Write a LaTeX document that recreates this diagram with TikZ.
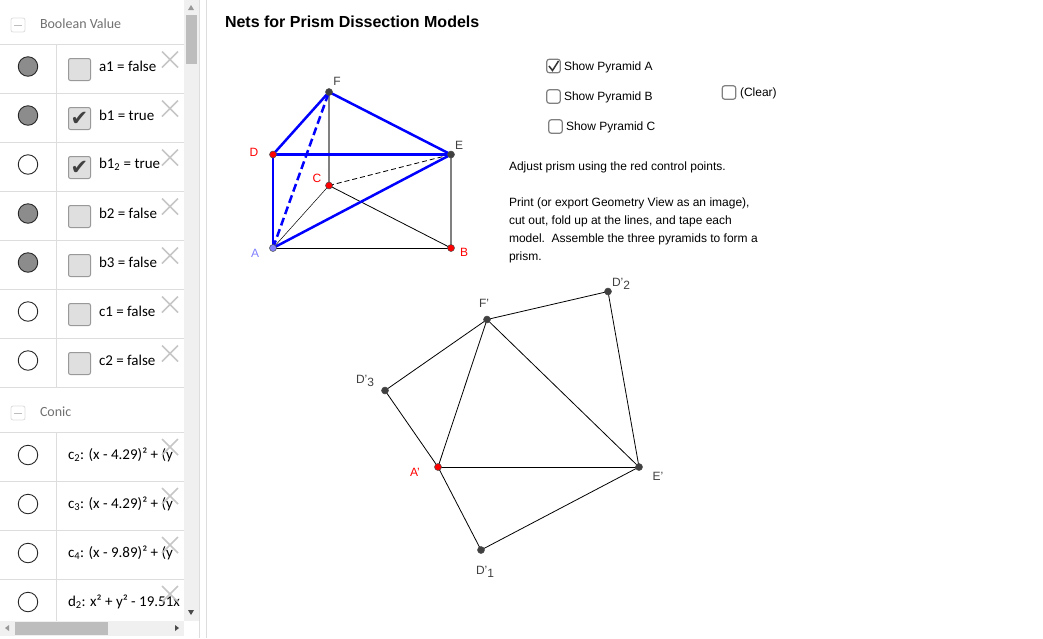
\documentclass[tikz,border=0pt]{standalone}
\usepackage{fontspec}
\setmainfont{Liberation Sans}
\newfontfamily\panelfont{Carlito}
\newfontfamily\symfont{DejaVu Sans}
\definecolor{rulegray}{HTML}{DDDDDD}
\definecolor{bargray}{HTML}{F0F0F0}
\definecolor{thumbgray}{HTML}{BDBDBD}
\definecolor{marbleoff}{HTML}{8C8C8C}
\definecolor{ptdark}{HTML}{404040}
\definecolor{ptblue}{HTML}{8080FF}
\definecolor{headgray}{HTML}{707070}
\tikzset{
  every node/.style={inner sep=0pt, outer sep=0pt},
  marble/.style={circle, draw=black!85, line width=0.9pt, minimum size=19.5pt},
  boolbox/.style={draw=gray!80, fill=gray!25, rounded corners=2pt, line width=1pt, minimum size=22pt},
  tickbox/.style={draw=gray, fill=white, rounded corners=2.5pt, line width=1.2pt, minimum size=13.5pt},
  foldbtn/.style={draw=rulegray, fill=white, rounded corners=2pt, line width=0.8pt, minimum size=14pt},
  panellabel/.style={anchor=west, font=\panelfont\fontsize{15}{15}\selectfont},
  headlabel/.style={anchor=west, text=headgray, font=\panelfont\fontsize{14}{14}\selectfont},
  note/.style={anchor=west, yshift=-1.5pt, font=\fontsize{12}{12}\selectfont},
  ptname/.style={yshift=-0.8pt, font=\fontsize{12}{12}\selectfont, text=ptdark},
  pt/.style={circle, draw=black!70, line width=0.5pt, minimum size=7pt, fill=#1},
  bluepen/.style={draw=blue, line width=2.5pt},
  grayedge/.style={draw=gray, line width=1.5pt},
  thinedge/.style={draw=black, line width=0.8pt}
}
\begin{document}
\begin{tikzpicture}[x=1pt,y=-1pt]
\useasboundingbox (0,0) rectangle (1043,638);
% side panel
\fill[bargray] (184,0) rectangle (199,621);
\fill[bargray] (0,621) rectangle (184,636);
\fill[thumbgray] (186,15) rectangle (197,64);
\fill[thumbgray] (15,622) rectangle (108,635);
\draw[rulegray] (199.5,0) -- (199.5,638);
\draw[rulegray] (206.5,0) -- (206.5,638);
\fill[gray!80] (188,10) -- (194,10) -- (191,5) -- cycle;
\fill[black!70] (188,610) -- (194,610) -- (191,615) -- cycle;
\fill[gray!80] (9,625) -- (9,631) -- (5,628) -- cycle;
\fill[black!70] (175,625) -- (175,631) -- (179,628) -- cycle;
\foreach \liney in {44,93,142,191,240,289,338,387,432,481,530,579}
    \draw[rulegray] (0,\liney+0.5) -- (184,\liney+0.5);
\draw[rulegray] (56.5,44) -- (56.5,387);
\draw[rulegray] (56.5,432) -- (56.5,621);
% headers
\node[foldbtn] (foldbool) at (18,25) {};
\draw[thumbgray, line width=1pt] (14,25) -- (22,25);
\node[headlabel] (boolhead) at (40,24) {Boolean Value};
\node[foldbtn] (foldconic) at (18,413) {};
\draw[thumbgray, line width=1pt] (14,413) -- (22,413);
\node[headlabel] (conichead) at (40,412) {Conic};
% boolean rows
\foreach \rowid/\rowy/\marblefill/\rowtick/\rowtext in {
    1/66.5/marbleoff/0/{a1 = false},
    2/115.5/marbleoff/1/{b1 = true},
    3/164.5/white/1/{b1\textsubscript{2} = true},
    4/213.5/marbleoff/0/{b2 = false},
    5/262.5/marbleoff/0/{b3 = false},
    6/311.5/white/0/{c1 = false},
    7/360.5/white/0/{c2 = false}} {
    \node[marble, fill=\marblefill] (marble\rowid) at (28,\rowy) {};
    \node[boolbox] (box\rowid) at (79.5,\rowy+3) {};
    \ifnum\rowtick=1
        \node[font=\symfont\fontsize{21}{21}\selectfont, text=black!75] (tick\rowid) at (box\rowid.center) {✔};
    \fi
    \begin{scope}
        \clip (95,\rowy-15) rectangle (161,\rowy+15);
        \node[panellabel] (bool\rowid) at (99,\rowy-0.5) {\rowtext};
    \end{scope}
    \draw[gray!45, line width=1.5pt] (162,\rowy-15) -- (178,\rowy+1) (178,\rowy-15) -- (162,\rowy+1);
}
% conic rows
\foreach \rowid/\rowy/\rowtext in {
    8/455/{c\textsubscript{2}: (x - 4.29)² + (y},
    9/504/{c\textsubscript{3}: (x - 4.29)² + (y},
    10/553/{c\textsubscript{4}: (x - 9.89)² + (y},
    11/602/{d\textsubscript{2}: x² + y² - 19.51x}} {
    \node[marble, fill=white] (marble\rowid) at (28,\rowy) {};
    \begin{scope}
        \clip (60,\rowy-15) rectangle (181,\rowy+15);
        \node[panellabel, anchor=west] (conic\rowid) at (68,\rowy) {\rowtext};
    \end{scope}
    \draw[gray!45, line width=1.5pt] (162,\rowy-16) -- (178,\rowy) (178,\rowy-16) -- (162,\rowy);
}
% title and controls
\node[anchor=west, font=\bfseries\fontsize{16}{16}\selectfont] (title) at (225,21.5) {Nets for Prism Dissection Models};
\node[tickbox] (showA) at (553.5,66) {};
\draw[black!80, line width=1.5pt] (549,66) -- (552.5,70.5) -- (558.5,61);
\node[note] (labelA) at (564,66) {Show Pyramid A};
\node[tickbox] (showB) at (553.5,96.5) {};
\node[note] (labelB) at (564,96) {Show Pyramid B};
\node[tickbox] (showC) at (555.5,126.5) {};
\node[note] (labelC) at (566,126) {Show Pyramid C};
\node[tickbox] (clearbox) at (729,92.5) {};
\node[note] (labelclear) at (740,92) {(Clear)};
\node[note] (adjust) at (509,166) {Adjust prism using the red control points.};
\node[note] (print1) at (509,202) {Print (or export Geometry View as an image),};
\node[note] (print2) at (509,220) {cut out, fold up at the lines, and tape each};
\node[note] (print3) at (509,238) {model.\ \ Assemble the three pyramids to form a};
\node[note] (print4) at (509,256) {prism.};
% prism
\coordinate (A) at (273,248);
\coordinate (B) at (451,248);
\coordinate (C) at (329,185.5);
\coordinate (D) at (273,154.5);
\coordinate (E) at (451,154.5);
\coordinate (F) at (329,92);
\draw[thinedge] (A) -- (B);
\draw[thinedge] (C) -- (B);
\draw[thinedge, line width=0.5pt] (A) -- (C);
\draw[thinedge, dash pattern=on 5pt off 3pt] (C) -- (E);
\draw[grayedge] (C) -- (F);
\draw[grayedge] (B) -- (E);
\draw[bluepen] (A) -- (D);
\draw[bluepen] (D) -- (E);
\draw[bluepen] (D) -- (F);
\draw[bluepen] (F) -- (E);
\draw[bluepen] (A) -- (E);
\draw[bluepen, dash pattern=on 8pt off 4pt] (A) -- (F);
\foreach \ptname/\ptcolor in {A/ptblue,B/red,C/red,D/red,E/ptdark,F/ptdark}
    \node[pt=\ptcolor] (pt\ptname) at (\ptname) {};
\node[ptname, text=ptblue] (nameA) at (255,253) {A};
\node[ptname, text=red] (nameB) at (464,252) {B};
\node[ptname, text=red] (nameC) at (317,178) {C};
\node[ptname, text=red] (nameD) at (254,152) {D};
\node[ptname] (nameE) at (459,145) {E};
\node[ptname] (nameF) at (337,81) {F};
% net
\coordinate (Fn) at (487,319.5);
\coordinate (Dtwo) at (608,291.5);
\coordinate (En) at (639,467);
\coordinate (An) at (438,467);
\coordinate (Done) at (481,550);
\coordinate (Dthree) at (385,390.5);
\draw[thinedge] (Fn) -- (Dtwo);
\draw[thinedge] (Dtwo) -- (En);
\draw[thinedge] (Fn) -- (En);
\draw[thinedge] (Fn) -- (An);
\draw[thinedge] (An) -- (En);
\draw[thinedge] (An) -- (Done);
\draw[thinedge] (Done) -- (En);
\draw[thinedge] (An) -- (Dthree);
\draw[thinedge] (Dthree) -- (Fn);
\foreach \ptname/\ptcolor in {Fn/ptdark,Dtwo/ptdark,En/ptdark,An/red,Done/ptdark,Dthree/ptdark}
    \node[pt=\ptcolor] (pt\ptname) at (\ptname) {};
\node[ptname] (nameFn) at (484,303) {F'};
\node[ptname, anchor=west] (nameDtwo) at (612,283) {D'\raisebox{-3pt}{2}};
\node[ptname] (nameEn) at (658,476) {E'};
\node[ptname, text=red] (nameAn) at (415,472) {A'};
\node[ptname, anchor=west] (nameDone) at (476,571) {D'\raisebox{-3pt}{1}};
\node[ptname, anchor=west] (nameDthree) at (356,380) {D'\raisebox{-3pt}{3}};
\end{tikzpicture}
\end{document}
